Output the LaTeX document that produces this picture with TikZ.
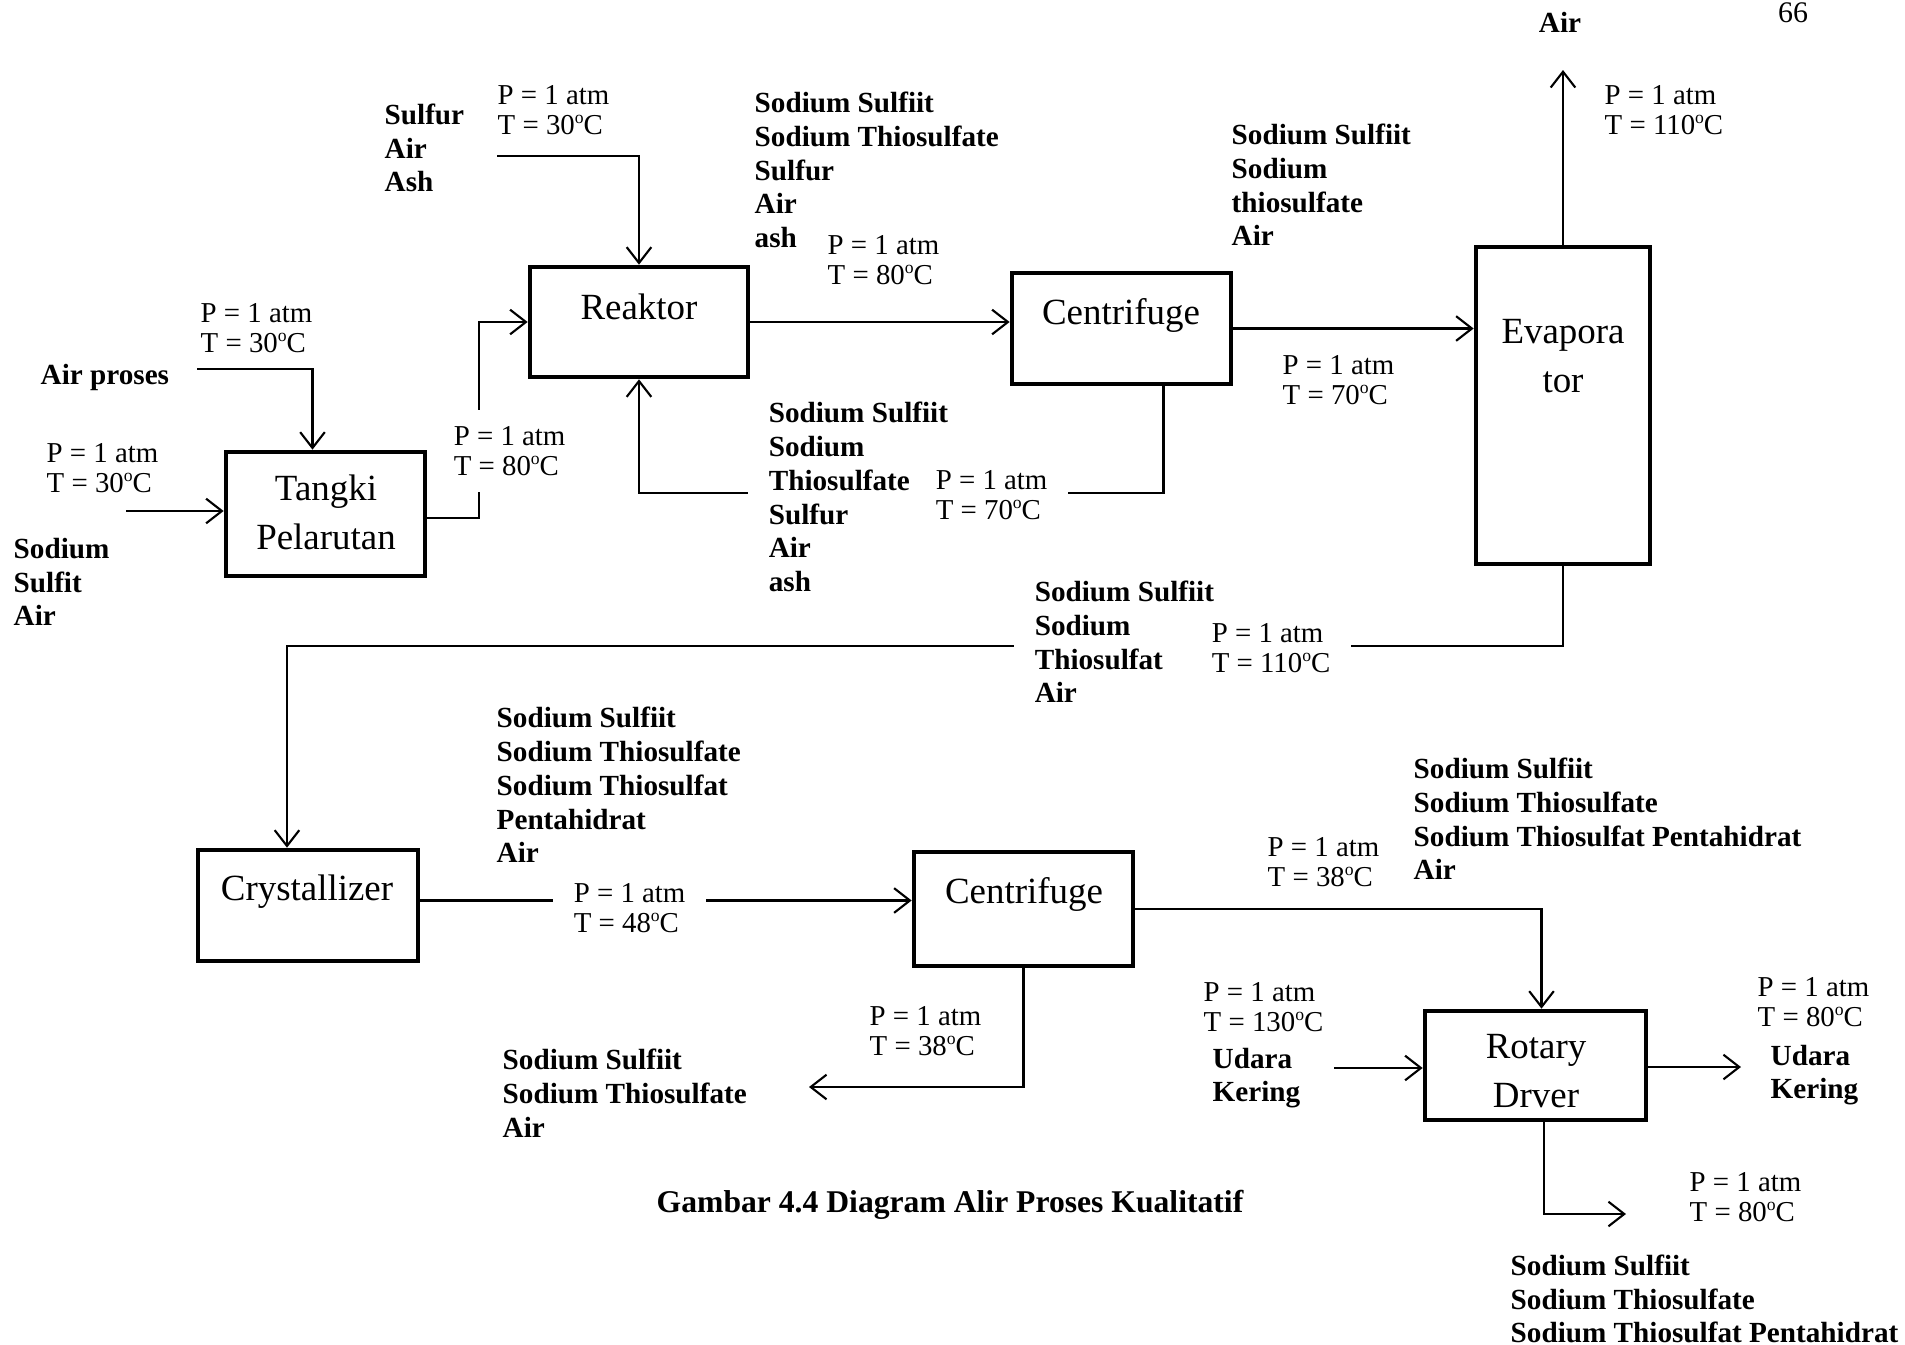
\documentclass[tikz,border=0pt]{standalone}
\usepackage{fontspec}
\setmainfont{Liberation Serif}
\usetikzlibrary{arrows.meta}

\newcommand{\suhu}[1]{#1\raisebox{3.1pt}{\fontsize{5}{5}\selectfont o}C}

\begin{document}
\begin{tikzpicture}[x=0.01cm, y=-0.01cm,
        unitbox/.style={draw, line width=1.3pt, inner sep=0pt},
        unittext/.style={align=center, inner sep=0pt, font=\fontsize{10.5}{14}\selectfont},
        cond/.style={anchor=west, align=left, inner sep=0pt, font=\fontsize{8.2}{8.6}\selectfont},
        comp/.style={anchor=west, align=left, inner sep=0pt, font=\fontsize{8.3}{9.6}\selectfont\bfseries},
        whiteout/.style={fill=white, inner xsep=6pt, inner ysep=4.5pt},
        stream/.style={line width=0.6pt},
        >={Straight Barb[length=4.5pt,width=7pt]}
    ]
        \useasboundingbox (0,0) rectangle (1905,1345);

        % Units
        \node[unitbox, minimum width=1.99cm, minimum height=1.24cm] (tangki) at (325.5,514) {};
        \node[unitbox, minimum width=2.18cm, minimum height=1.10cm] (reaktor) at (639,322) {};
        \node[unitbox, minimum width=2.19cm, minimum height=1.11cm] (centri1) at (1121.5,328.5) {};
        \node[unitbox, minimum width=1.74cm, minimum height=3.17cm] (evap) at (1563,405.5) {};
        \node[unitbox, minimum width=2.20cm, minimum height=1.11cm] (kristal) at (308,905.5) {};
        \node[unitbox, minimum width=2.19cm, minimum height=1.14cm] (centri2) at (1023.5,909) {};
        \node[unitbox, minimum width=2.21cm, minimum height=1.09cm] (dryer) at (1535.5,1065.5) {};

        \node[unittext] (t-tangki) at (326,512) {Tangki\\Pelarutan};
        \node[unittext] (t-reaktor) at (639,307) {Reaktor};
        \node[unittext] (t-centri1) at (1121,315) {Centrifuge};
        \node[unittext] (t-evap) at (1563,356) {Evapora\\tor};
        \node[unittext] (t-kristal) at (307,892) {Crystallizer};
        \node[unittext] (t-centri2) at (1024,894) {Centrifuge};
        \node[unittext] (t-dryer) at (1536,1071) {Rotary\\Drver};

        % Free ends
        \coordinate (sfeed) at (497,156);
        \coordinate (apfeed) at (197,369);
        \coordinate (nafeed) at (126,511);
        \coordinate (airout) at (1563,70);
        \coordinate (cakeout) at (809,1087);
        \coordinate (udarain) at (1334,1068);
        \coordinate (udaraout) at (1741,1067);
        \coordinate (produk) at (1626,1214);

        % Streams
        \draw[stream, ->] (sfeed) -| (reaktor.north);
        \draw[stream, ->] (apfeed) -| ([xshift=-0.13cm]tangki.north);
        \draw[stream, ->] (nafeed) -- (nafeed -| tangki.west);
        \draw[stream, ->] ([yshift=-0.04cm]tangki.east) -- ++(52,0) |- (reaktor.west);
        \draw[stream, ->] (reaktor.east) -- (reaktor.east -| centri1.west);
        \draw[stream, ->] (centri1.east) -- (centri1.east -| evap.west);
        \draw[stream, ->] (evap.north) -- (airout);
        \draw[stream, ->] ([xshift=0.42cm]centri1.south) -- ++(0,107) -| (reaktor.south);
        \draw[stream, ->] (evap.south) -- ++(0,80) -| ([xshift=-0.21cm]kristal.north);
        \draw[stream, ->] ([yshift=0.05cm]kristal.east) -- ([yshift=0.05cm]kristal.east -| centri2.west);
        \draw[stream, ->] (centri2.east) -| ([xshift=0.06cm]dryer.north);
        \draw[stream, ->] (centri2.south) |- (cakeout);
        \draw[stream, ->] (udarain) -- (udarain -| dryer.west);
        \draw[stream, ->] (dryer.east |- udaraout) -- (udaraout);
        \draw[stream, ->] ([xshift=0.085cm]dryer.south) |- (produk);

        % Stream labels
        \node[comp] (c-sulfur) at (384,148) {Sulfur\\Air\\Ash};
        \node[cond] (p-sulfur) at (497,110) {P = 1 atm\\T = \suhu{30}};
        \node[comp] (c-airproses) at (40,377) {Air proses};
        \node[cond] (p-airproses) at (200,328) {P = 1 atm\\T = \suhu{30}};
        \node[comp] (c-nafeed) at (13,582) {Sodium\\Sulfit\\Air};
        \node[cond] (p-nafeed) at (46,468) {P = 1 atm\\T = \suhu{30}};
        \node[cond, whiteout] (p-tangki) at (432,451) {P = 1 atm\\T = \suhu{80}};

        \node[comp] (c-reaktor) at (754,170) {Sodium Sulfiit\\Sodium Thiosulfate\\Sulfur\\Air\\ash};
        \node[cond] (p-reaktor) at (827,260) {P = 1 atm\\T = \suhu{80}};

        \node[comp] (c-centri1) at (1231,185) {Sodium Sulfiit\\Sodium\\thiosulfate\\Air};
        \node[cond] (p-centri1) at (1282,380) {P = 1 atm\\T = \suhu{70}};
        \node[comp, whiteout] (c-recycle) at (747,497) {Sodium Sulfiit\\Sodium\\Thiosulfate\\Sulfur\\Air\\ash};
        \node[cond, whiteout] (p-recycle) at (914,495) {P = 1 atm\\T = \suhu{70}};

        \node[comp, anchor=center] (c-evapair) at (1560,22) {Air};
        \node[cond] (p-evapair) at (1604,110) {P = 1 atm\\T = \suhu{110}};
        \node[comp, whiteout] (c-evap) at (1013,642) {Sodium Sulfiit\\Sodium\\Thiosulfat\\Air};
        \node[cond, whiteout] (p-evap) at (1190,648) {P = 1 atm\\T = \suhu{110}};

        \node[comp] (c-kristal) at (496,785) {Sodium Sulfiit\\Sodium Thiosulfate\\Sodium Thiosulfat\\Pentahidrat\\Air};
        \node[cond, whiteout] (p-kristal) at (552,908) {P = 1 atm\\T = \suhu{48}};

        \node[comp] (c-centri2) at (1413,819) {Sodium Sulfiit\\Sodium Thiosulfate\\Sodium Thiosulfat Pentahidrat\\Air};
        \node[cond] (p-centri2) at (1267,862) {P = 1 atm\\T = \suhu{38}};
        \node[comp] (c-cake) at (502,1093) {Sodium Sulfiit\\Sodium Thiosulfate\\Air};
        \node[cond] (p-cake) at (869,1031) {P = 1 atm\\T = \suhu{38}};

        \node[comp] (c-udarain) at (1212,1078) {Udara\\Kering};
        \node[cond] (p-udarain) at (1203,1007) {P = 1 atm\\T = \suhu{130}};
        \node[comp] (c-udaraout) at (1770,1075) {Udara\\Kering};
        \node[cond] (p-udaraout) at (1757,1002) {P = 1 atm\\T = \suhu{80}};
        \node[comp] (c-produk) at (1510,1299) {Sodium Sulfiit\\Sodium Thiosulfate\\Sodium Thiosulfat Pentahidrat};
        \node[cond] (p-produk) at (1689,1197) {P = 1 atm\\T = \suhu{80}};

        \node[inner sep=0pt, font=\fontsize{8.5}{10}\selectfont] (hal) at (1793,13) {66};
        \node[inner sep=0pt, font=\fontsize{9}{11}\selectfont\bfseries] (judul) at (950,1205) {Gambar 4.4 Diagram Alir Proses Kualitatif};
    \end{tikzpicture}
\end{document}
